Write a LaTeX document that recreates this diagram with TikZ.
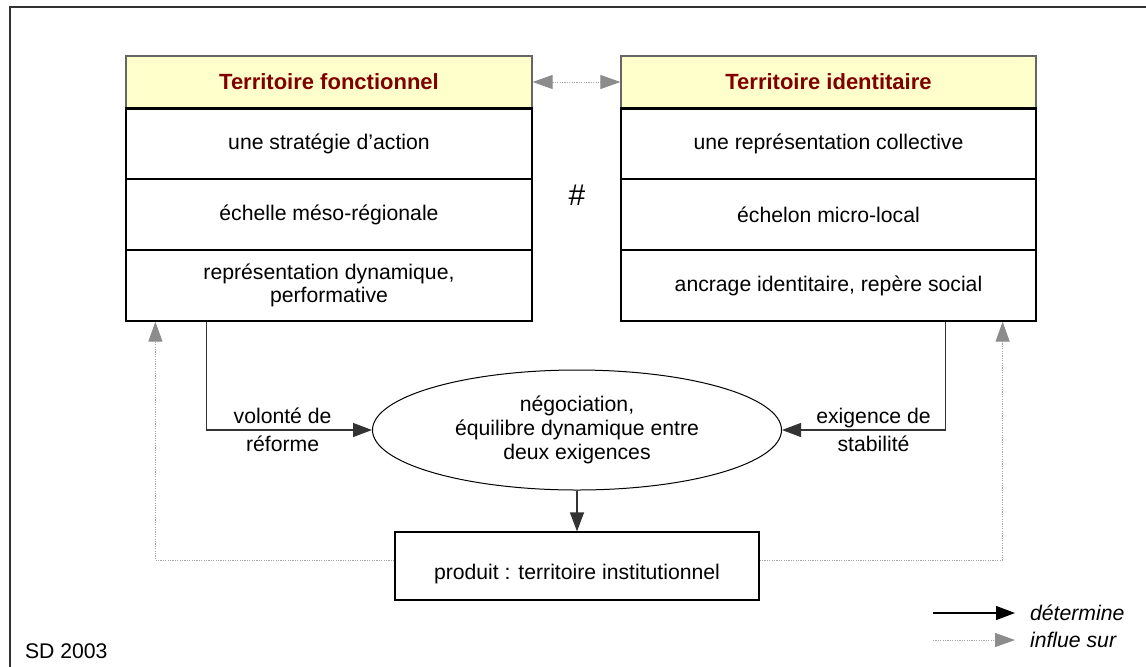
\documentclass[tikz,border=0pt]{standalone}
\usepackage{fontspec}
\setmainfont{Liberation Sans}
\usetikzlibrary{arrows.meta,shapes.geometric}
\definecolor{entete}{HTML}{FFFFCC}
\definecolor{titre}{HTML}{800000}
\tikzset{
  txt/.style={font=\fontsize{10.6}{11.5}\selectfont},
  cell/.style={txt, draw, line width=0.6pt, minimum width=203pt, minimum height=35.5pt, inner sep=0pt, align=center},
  head/.style={cell, fill=entete, draw=black!60, minimum height=26pt, font=\fontsize{11}{13}\selectfont\bfseries, text=titre},
  lbl/.style={txt, align=center, font=\fontsize{10.6}{14}\selectfont},
  gtip/.tip={Triangle[length=10pt, width=7pt, color=black!45]},
  det/.style={draw=black!80, line width=0.6pt, -{Triangle[length=9.5pt, width=7pt]}},
  inf/.style={draw=black!35, line width=0.5pt, dash pattern=on 0.6pt off 0.6pt, -gtip}
}
\begin{document}
\begin{tikzpicture}[x=0.5pt, y=-0.5pt]
\useasboundingbox (0,0) rectangle (1146,666);
% cadre
\draw[line width=1pt, black!80] (10,720) |- (1200,7);

% territoire fonctionnel
\node[head] (f0) at (329,82) {Territoire fonctionnel};
\node[cell] (f1) at (329,143.5) {une stratégie d’action};
\node[cell] (f2) at (329,214.5) {échelle méso-régionale};
\node[cell] (f3) at (329,285.5) {représentation dynamique,\\ performative};
\draw[line width=1.5pt] (f0.south west) -- (f0.south east);

% territoire identitaire
\node[head, minimum width=207.5pt] (g0) at (828.5,82) {Territoire identitaire};
\node[cell, minimum width=207.5pt] (g1) at (828.5,143.5) {une représentation collective};
\node[cell, minimum width=207.5pt] (g2) at (828.5,214.5) {échelon micro-local};
\node[cell, minimum width=207.5pt] (g3) at (828.5,285.5) {ancrage identitaire, repère social};
\draw[line width=1.5pt] (g0.south west) -- (g0.south east);

\draw[inf, gtip-gtip] (f0) -- (g0);
\node[font=\fontsize{15}{18}\selectfont] (diese) at (577,195) {\#};

% negociation et produit
\node[ellipse, draw, line width=0.5pt, minimum width=204.5pt, minimum height=60pt, inner sep=0pt, txt, align=center, font=\fontsize{10.6}{12}\selectfont] (neg) at (577,430) {négociation,\\ équilibre dynamique entre\\ deux exigences};
\node[draw, line width=0.6pt, minimum width=182pt, minimum height=34pt, text height=13pt, text depth=0pt, txt] (prod) at (577,566) {produit : territoire institutionnel};

\draw[det] (f3.south west) ++(81,0) |- node[pos=0.73, lbl] {volonté de\\ réforme} (neg);
\draw[det] (g3.south west) ++(325,0) |- node[pos=0.72, lbl] {exigence de\\ stabilité} (neg);
\draw[det] (neg) -- (prod);

\draw[inf] ([yshift=3pt]prod.west) -| ([xshift=15pt]f3.south west);
\draw[inf] ([yshift=3pt]prod.east) -| ([xshift=-17pt]g3.south east);

% legende
\coordinate (d0) at (933,613);
\coordinate (d1) at (1015,613);
\draw[det, draw=black] (d0) -- (d1);
\node[anchor=west, txt, font=\fontsize{10.6}{12}\selectfont\itshape] (ldet) at (1023,613) {détermine};
\coordinate (i0) at (933,640);
\coordinate (i1) at (1015,640);
\draw[inf] (i0) -- (i1);
\node[anchor=west, txt, font=\fontsize{10.6}{12}\selectfont\itshape] (linf) at (1023,640) {influe sur};

\node[anchor=west, txt] (sd) at (18,651) {SD 2003};
\end{tikzpicture}
\end{document}
